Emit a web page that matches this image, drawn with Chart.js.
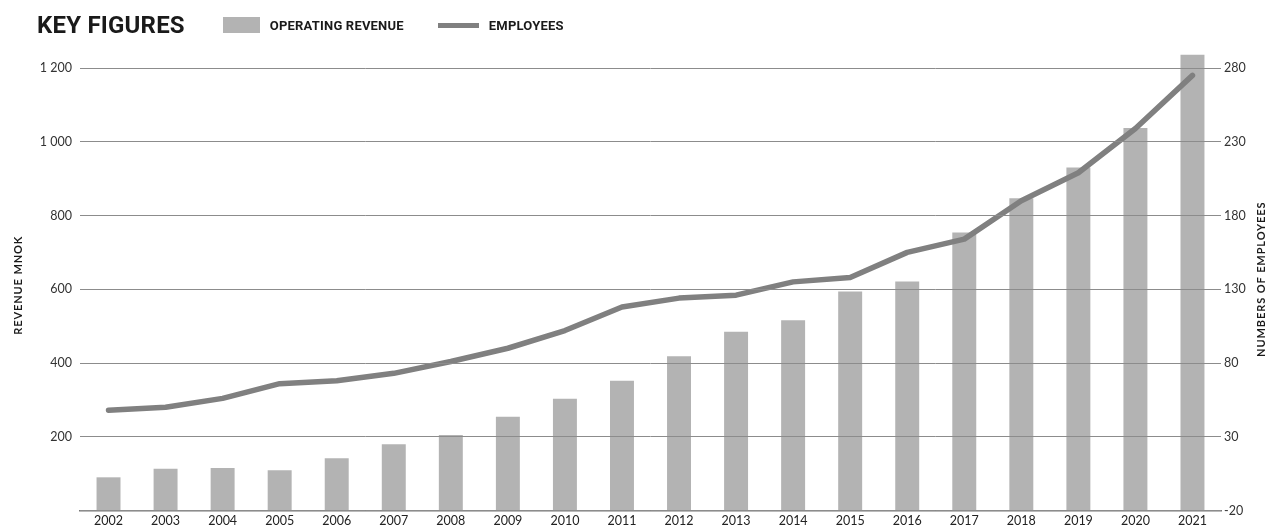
<!DOCTYPE html>
<html>
<head>
<meta charset="utf-8">
<script src="https://cdn.jsdelivr.net/npm/chart.js@4/dist/chart.umd.min.js"></script>
<style>
  html, body { margin: 0; padding: 0; background: #fff; }
  #wrap { position: relative; width: 1268px; height: 526px; }
  #header { position: absolute; left: 37px; top: 10px; height: 30px; display: flex; align-items: center; font-family: Roboto, sans-serif; color: #1a1a1a; }
  #header h1 { margin: 0; font-size: 24px; font-weight: 700; letter-spacing: 0.2px; }
  .lg { display: flex; align-items: center; font-size: 13px; font-weight: 700; margin-left: 38px; letter-spacing: 0.2px; }
  .lg + .lg { margin-left: 34px; }
  .lg .sw { display: inline-block; margin-right: 10px; }
</style>
</head>
<body>
<div id="wrap">
  <canvas id="chart" width="1268" height="526"></canvas>
  <div id="header"><h1>KEY FIGURES</h1><div id="legend" style="display:flex"></div></div>
</div>
<script>
// ---- data ----
const years = ['2002','2003','2004','2005','2006','2007','2008','2009','2010','2011',
               '2012','2013','2014','2015','2016','2017','2018','2019','2020','2021'];
const revenue   = [90, 113, 115, 109, 142, 180, 205, 254, 303, 352,
                   418, 485, 516, 594, 621, 754, 847, 930, 1037, 1236];
const employees = [48, 50, 56, 66, 68, 73, 81, 90, 102, 118,
                   124, 126, 135, 138, 155, 164, 190, 209, 239, 275];
const revenueTicks  = [0, 200, 400, 600, 800, 1000, 1200];
const employeeTicks = [-20, 30, 80, 130, 180, 230, 280];

const BAR = '#b3b3b3';
const LINE = '#808080';
const GRID = '#8c8c8c';
const TICK = '#333333';

function fmtNum(v) {
  return String(v).replace(/\B(?=(\d{3})+(?!\d))/g, ' ');
}

// rotated axis titles, both reading bottom to top
const axisTitles = {
  id: 'axisTitles',
  afterDraw(chart) {
    const { ctx, chartArea } = chart;
    const mid = (chartArea.top + chartArea.bottom) / 2;
    ctx.save();
    ctx.fillStyle = '#1a1a1a';
    ctx.font = 'bold 11px Lato, sans-serif';
    ctx.letterSpacing = '0.9px';
    ctx.textAlign = 'center';
    ctx.textBaseline = 'middle';
    [[18, mid - 4, 'REVENUE MNOK'], [1261, mid - 10, 'NUMBERS OF EMPLOYEES']].forEach(([x, y, t]) => {
      ctx.save();
      ctx.translate(x, y);
      ctx.rotate(-Math.PI / 2);
      ctx.fillText(t, 0, 0);
      ctx.restore();
    });
    ctx.restore();
  }
};

const chart = new Chart(document.getElementById('chart'), {
  data: {
    labels: years,
    datasets: [
      { type: 'line', label: 'EMPLOYEES', data: employees, yAxisID: 'yEmp',
        borderColor: LINE, borderWidth: 5.5, borderCapStyle: 'round', borderJoinStyle: 'round',
        pointRadius: 0, tension: 0, order: 1 },
      { type: 'bar', label: 'OPERATING REVENUE', data: revenue, yAxisID: 'yRev',
        backgroundColor: BAR, borderWidth: 0, barPercentage: 0.42, categoryPercentage: 1,
        clip: false, order: 2 }
    ]
  },
  options: {
    responsive: false, animation: false,
    layout: { padding: { top: 68, left: 0, right: 0, bottom: 0 } },
    plugins: { legend: { display: false }, tooltip: { enabled: false } },
    scales: {
      x: {
        grid: { display: false, drawTicks: false },
        border: { display: true, color: '#777', width: 1.5 },
        ticks: { color: '#222', padding: 3, maxRotation: 0, font: { family: 'Lato', size: 12.5 } },
        afterFit: s => { s.height = 15; }
      },
      yRev: {
        position: 'left', min: 0, max: 1200,
        afterBuildTicks: s => { s.ticks = revenueTicks.map(v => ({ value: v })); },
        grid: { color: GRID, lineWidth: 1, drawTicks: false, z: 1 },
        border: { display: false },
        ticks: { color: TICK, padding: 8, font: { family: 'Lato', size: 12.5 },
                 callback: v => v === 0 ? '' : fmtNum(v) },
        afterFit: s => { s.width = 80; }
      },
      yEmp: {
        position: 'right', min: -20, max: 280,
        afterBuildTicks: s => { s.ticks = employeeTicks.map(v => ({ value: v })); },
        grid: { display: false, drawTicks: false },
        border: { display: false },
        ticks: { color: TICK, padding: 3, font: { family: 'Lato', size: 12.5 } },
        afterFit: s => { s.width = 47; }
      }
    }
  },
  plugins: [axisTitles]
});

// header legend built from the datasets
const lg = document.getElementById('legend');
[chart.data.datasets[1], chart.data.datasets[0]].forEach(ds => {
  const item = document.createElement('div');
  item.className = 'lg';
  const sw = document.createElement('span');
  sw.className = 'sw';
  if (ds.type === 'bar') {
    sw.style.cssText = `width:37px;height:16px;background:${ds.backgroundColor}`;
  } else {
    sw.style.cssText = `width:41px;height:5px;background:${ds.borderColor}`;
  }
  item.appendChild(sw);
  item.appendChild(document.createTextNode(ds.label));
  lg.appendChild(item);
});
</script>
</body>
</html>
